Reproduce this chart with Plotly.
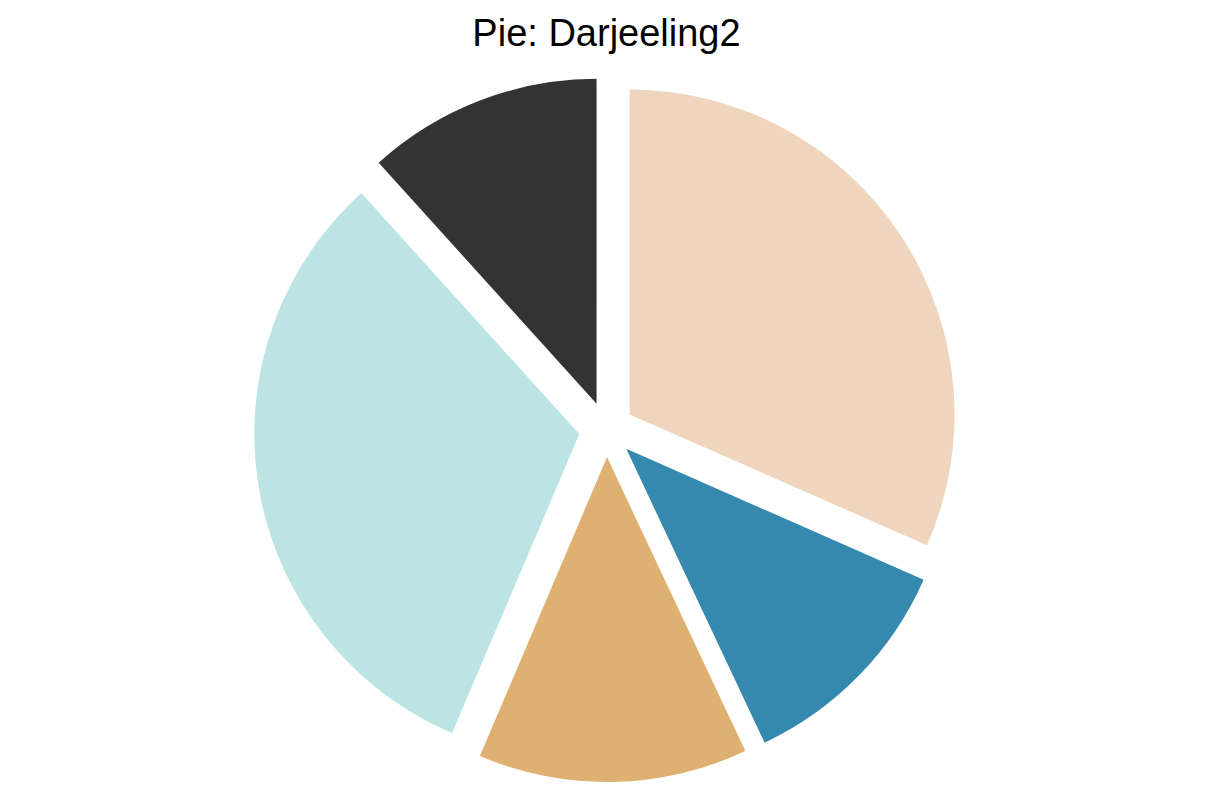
import plotly.graph_objects as go

categories = ["A", "B", "C", "D", "E"]
values = [31.6, 11.4, 13.4, 31.9, 11.7]
colors = ["#ECCBAE", "#046C9A", "#D69C4E", "#ABDDDE", "#000000"]
title_text = "Pie: Darjeeling2"


def rgba(hex_color, alpha):
    h = hex_color.lstrip("#")
    r, g, b = int(h[0:2], 16), int(h[2:4], 16), int(h[4:6], 16)
    return f"rgba({r},{g},{b},{alpha})"


fig = go.Figure(
    go.Pie(
        labels=categories,
        values=values,
        sort=False,
        direction="clockwise",
        rotation=0,
        pull=[0.085] * len(values),
        marker=dict(colors=[rgba(c, 0.8) for c in colors], line=dict(width=0)),
        textinfo="none",
        hoverinfo="label+percent",
        showlegend=False,
    )
)

fig.update_layout(
    width=1213,
    height=808,
    margin=dict(l=0, r=0, t=77, b=26),
    paper_bgcolor="white",
    plot_bgcolor="white",
    title=dict(
        text=title_text,
        x=0.5,
        xanchor="center",
        y=1 - 33 / 808,
        yanchor="middle",
        font=dict(family="Liberation Sans, Arial, sans-serif", size=38, color="black"),
    ),
)

fig.write_html("out.html")
